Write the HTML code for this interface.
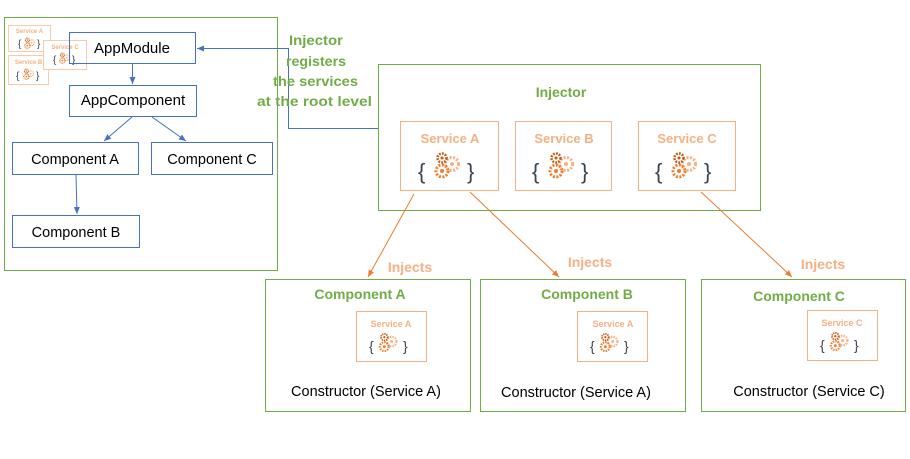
<!DOCTYPE html>
<html><head><meta charset="utf-8"><style>
html,body{margin:0;padding:0;background:#fff;}
svg{display:block;font-family:"Liberation Sans","DejaVu Sans",sans-serif;}
.g{fill:#70ad47;font-weight:bold;}
.o{fill:#f4b183;font-weight:bold;}
.k{fill:#000;}
.br{fill:#3a4450;}
</style></head><body>
<svg width="910" height="459" viewBox="0 0 910 459" xmlns="http://www.w3.org/2000/svg">
<defs>
<marker id="ab" markerWidth="8" markerHeight="8" refX="7" refY="4" orient="auto" markerUnits="userSpaceOnUse"><path d="M0,1 L7,4 L0,7 z" fill="#4472c4"/></marker>
<marker id="ao" markerWidth="8" markerHeight="8" refX="7" refY="4" orient="auto" markerUnits="userSpaceOnUse"><path d="M0,1 L7,4 L0,7 z" fill="#ed7d31"/></marker>
<symbol id="gear" viewBox="0 0 30 30">
<circle cx="20" cy="13" r="6.5" fill="none" stroke="#f4b183" stroke-width="3" stroke-dasharray="2 1.5"/>
<circle cx="20" cy="13" r="2" fill="#f4b183"/>
<circle cx="10" cy="7" r="4.5" fill="none" stroke="#c55a11" stroke-width="2.5" stroke-dasharray="1.8 1.2"/>
<circle cx="10" cy="7" r="1.5" fill="#c55a11"/>
<circle cx="10" cy="20" r="6" fill="none" stroke="#ed7d31" stroke-width="3" stroke-dasharray="2 1.5"/>
<circle cx="10" cy="20" r="2" fill="#ed7d31"/>
</symbol>
</defs>

<rect x="4.5" y="17.5" width="273" height="253" fill="none" stroke="#70ad47"/>
<rect x="8.5" y="25.5" width="42" height="26" fill="#fff" stroke="#f8cbad"/>
<text x="29.5" y="33" font-size="6" class="o" text-anchor="middle">Service A</text>
<text x="18" y="47" font-size="10" class="br">{</text><use href="#gear" x="23" y="37" width="13" height="13"/><text x="37" y="47" font-size="10" class="br">}</text>
<rect x="8.5" y="55.5" width="40" height="29" fill="#fff" stroke="#f8cbad"/>
<text x="28.5" y="64" font-size="6" class="o" text-anchor="middle">Service B</text>
<text x="16" y="79" font-size="10" class="br">{</text><use href="#gear" x="22" y="68" width="13" height="13"/><text x="36" y="79" font-size="10" class="br">}</text>
<rect x="43.5" y="40.5" width="43" height="29" fill="#fff" stroke="#f8cbad"/>
<text x="65" y="49" font-size="6" class="o" text-anchor="middle">Service C</text>
<text x="53" y="63" font-size="10" class="br">{</text><use href="#gear" x="58" y="52" width="13" height="13"/><text x="72" y="63" font-size="10" class="br">}</text>

<rect x="69.5" y="32.5" width="126" height="31" fill="none" stroke="#4472c4"/>
<rect x="88" y="34" width="100" height="28" fill="#fff"/>
<text x="132" y="53" font-size="15" class="k" text-anchor="middle">AppModule</text>
<rect x="69.5" y="85.5" width="127" height="31" fill="#fff" stroke="#4472c4"/>
<text x="133" y="105" font-size="15" class="k" text-anchor="middle">AppComponent</text>
<rect x="12.5" y="142.5" width="126" height="32" fill="#fff" stroke="#4472c4"/>
<text x="75" y="164" font-size="14.5" class="k" text-anchor="middle">Component A</text>
<rect x="151.5" y="142.5" width="121" height="32" fill="#fff" stroke="#4472c4"/>
<text x="212" y="164" font-size="14.5" class="k" text-anchor="middle">Component C</text>
<rect x="12.5" y="215.5" width="127" height="32" fill="#fff" stroke="#4472c4"/>
<text x="76" y="237" font-size="14.5" class="k" text-anchor="middle">Component B</text>

<g stroke="#4472c4" stroke-width="1" fill="none">
<line x1="132.5" y1="64" x2="132.5" y2="84" marker-end="url(#ab)"/>
<line x1="132" y1="117" x2="104" y2="141" marker-end="url(#ab)"/>
<line x1="152" y1="117" x2="186" y2="141" marker-end="url(#ab)"/>
<line x1="76" y1="175" x2="77" y2="214" marker-end="url(#ab)"/>
<polyline points="378,128.5 288.5,128.5 288.5,48.5 197,48.5" marker-end="url(#ab)"/>
</g>

<text font-size="14" class="g" lengthAdjust="spacingAndGlyphs">
<tspan x="289" y="45" textLength="54" lengthAdjust="spacingAndGlyphs">Injector</tspan>
<tspan x="286" y="66" textLength="60" lengthAdjust="spacingAndGlyphs">registers</tspan>
<tspan x="273" y="86" textLength="85" lengthAdjust="spacingAndGlyphs">the services</tspan>
<tspan x="257" y="106" textLength="115" lengthAdjust="spacingAndGlyphs">at the root level</tspan>
</text>

<rect x="378.5" y="64.5" width="382" height="146" fill="#fff" stroke="#70ad47"/>
<text x="561" y="97" font-size="14" class="g" text-anchor="middle">Injector</text>

<rect x="400.5" y="121.5" width="98" height="69" fill="none" stroke="#f4b183"/>
<text x="450" y="143" font-size="13" class="o" text-anchor="middle">Service A</text>
<text x="418" y="179" font-size="22" class="br">{</text><use href="#gear" x="432" y="151" width="30" height="30"/><text x="467" y="179" font-size="22" class="br">}</text>

<rect x="515.5" y="121.5" width="96" height="69" fill="none" stroke="#f4b183"/>
<text x="564" y="143" font-size="13" class="o" text-anchor="middle">Service B</text>
<text x="532" y="179" font-size="22" class="br">{</text><use href="#gear" x="546" y="151" width="30" height="30"/><text x="581" y="179" font-size="22" class="br">}</text>

<rect x="638.5" y="121.5" width="97" height="69" fill="none" stroke="#f4b183"/>
<text x="687" y="143" font-size="13" class="o" text-anchor="middle">Service C</text>
<text x="655" y="179" font-size="22" class="br">{</text><use href="#gear" x="669" y="151" width="30" height="30"/><text x="704" y="179" font-size="22" class="br">}</text>

<g stroke="#ed7d31" stroke-width="1">
<line x1="414" y1="194" x2="368" y2="277" marker-end="url(#ao)"/>
<line x1="470" y1="192" x2="559" y2="277" marker-end="url(#ao)"/>
<line x1="701" y1="192" x2="792" y2="277" marker-end="url(#ao)"/>
</g>
<text x="410" y="272" font-size="14" class="o" text-anchor="middle">Injects</text>
<text x="590" y="267" font-size="14" class="o" text-anchor="middle">Injects</text>
<text x="823" y="269" font-size="14" class="o" text-anchor="middle">Injects</text>

<rect x="265.5" y="279.5" width="205" height="132" fill="none" stroke="#70ad47"/>
<text x="360" y="299" font-size="14" class="g" text-anchor="middle">Component A</text>
<rect x="356.5" y="311.5" width="70" height="50" fill="none" stroke="#f4b183"/>
<text x="391" y="327" font-size="9" class="o" text-anchor="middle">Service A</text>
<text x="369" y="351" font-size="14" class="br">{</text><use href="#gear" x="377" y="332" width="22" height="22"/><text x="403" y="351" font-size="14" class="br">}</text>
<text x="366" y="396" font-size="14.5" class="k" text-anchor="middle">Constructor (Service A)</text>

<rect x="480.5" y="279.5" width="205" height="132" fill="none" stroke="#70ad47"/>
<text x="587" y="299" font-size="14" class="g" text-anchor="middle">Component B</text>
<rect x="577.5" y="311.5" width="70" height="50" fill="none" stroke="#f4b183"/>
<text x="613" y="327" font-size="9" class="o" text-anchor="middle">Service A</text>
<text x="590" y="351" font-size="14" class="br">{</text><use href="#gear" x="598" y="332" width="22" height="22"/><text x="624" y="351" font-size="14" class="br">}</text>
<text x="576" y="397" font-size="14.5" class="k" text-anchor="middle">Constructor (Service A)</text>

<rect x="701.5" y="279.5" width="204" height="132" fill="none" stroke="#70ad47"/>
<text x="799" y="301" font-size="14" class="g" text-anchor="middle">Component C</text>
<rect x="807.5" y="310.5" width="70" height="50" fill="none" stroke="#f4b183"/>
<text x="842" y="326" font-size="9" class="o" text-anchor="middle">Service C</text>
<text x="820" y="350" font-size="14" class="br">{</text><use href="#gear" x="828" y="331" width="22" height="22"/><text x="854" y="350" font-size="14" class="br">}</text>
<text x="809" y="396" font-size="14.5" class="k" text-anchor="middle">Constructor (Service C)</text>
</svg>
</body></html>
